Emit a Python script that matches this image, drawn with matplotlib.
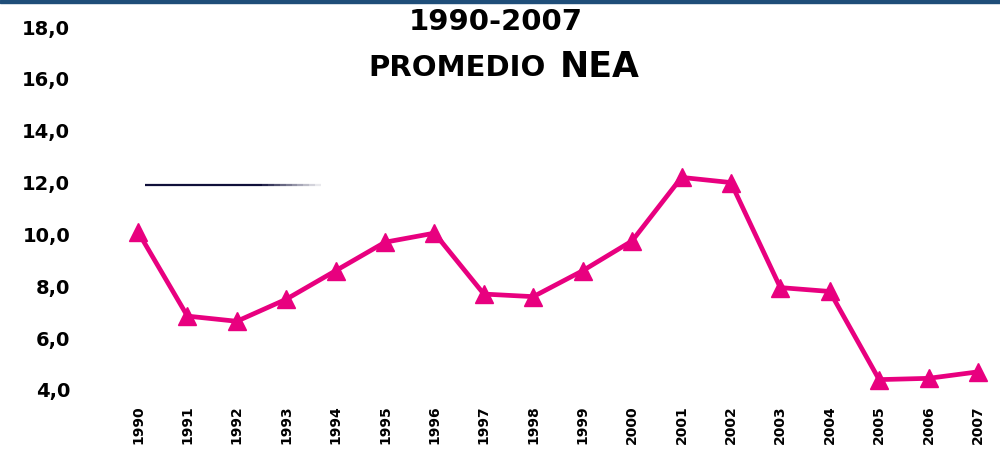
import numpy as np
import matplotlib
matplotlib.use("Agg")
import matplotlib.pyplot as plt
from matplotlib.patches import Rectangle

# datos
anios = ['1990', '1991', '1992', '1993', '1994', '1995', '1996', '1997', '1998',
         '1999', '2000', '2001', '2002', '2003', '2004', '2005', '2006', '2007']
promedio_nea = [10.1, 6.85, 6.65, 7.5, 8.6, 9.7, 10.05, 7.7, 7.6,
                8.6, 9.75, 12.2, 12.0, 7.95, 7.8, 4.4, 4.45, 4.7]
y_ticks = [4, 6, 8, 10, 12, 14, 16, 18]
y_labels = ['4,0', '6,0', '8,0', '10,0', '12,0', '14,0', '16,0', '18,0']
# trazo oscuro que queda en el original (se desvanece hacia la derecha)
trazo_x = [0.15, 2.4, 3.7]
trazo_y = 11.9

rosa = '#E8007F'

fig = plt.figure(figsize=(10, 4.49), dpi=100)
ax = fig.add_axes([0.08, 1 - 390 / 449, 0.915, (390 - 27) / 449])

x = np.arange(len(anios))
ax.plot(x, promedio_nea, color=rosa, lw=3.4, marker='^', markersize=13,
        markeredgecolor=rosa, zorder=3)

# trazo oscuro
ax.plot(trazo_x[:2], [trazo_y] * 2, color='#10103a', lw=1.6, solid_capstyle='butt')
xs = np.linspace(trazo_x[1], trazo_x[2], 12)
for i in range(len(xs) - 1):
    ax.plot(xs[i:i + 2], [trazo_y] * 2, color='#10103a', lw=1.6,
            alpha=1 - i / (len(xs) - 1), solid_capstyle='butt')

ax.set_xlim(-(138 - 80) / 49.41, (995 - 138) / 49.41)
ax.set_ylim(4, 18)
ax.set_xticks(x)
ax.set_xticklabels(anios, rotation=90, fontsize=10, fontweight='bold')
ax.set_yticks(y_ticks)
ax.set_yticklabels(y_labels, fontsize=14, fontweight='bold')
ax.tick_params(axis='x', length=0, pad=11)
ax.tick_params(axis='y', length=0, pad=7)
for s in ax.spines.values():
    s.set_visible(False)

fig.text(0.496, 0.951, '1990-2007', ha='center', va='center',
         fontsize=21, fontweight='bold')
fig.text(0.546, 0.849, 'PROMEDIO', ha='right', va='center',
         fontsize=21, fontweight='bold')
fig.text(0.560, 0.851, 'NEA', ha='left', va='center',
         fontsize=25, fontweight='bold')

# borde superior azul
fig.patches.append(Rectangle((0, 1 - 3 / 449), 1, 3 / 449, transform=fig.transFigure,
                             color='#1F4E79', zorder=5))

fig.savefig('out.png', dpi=100)
